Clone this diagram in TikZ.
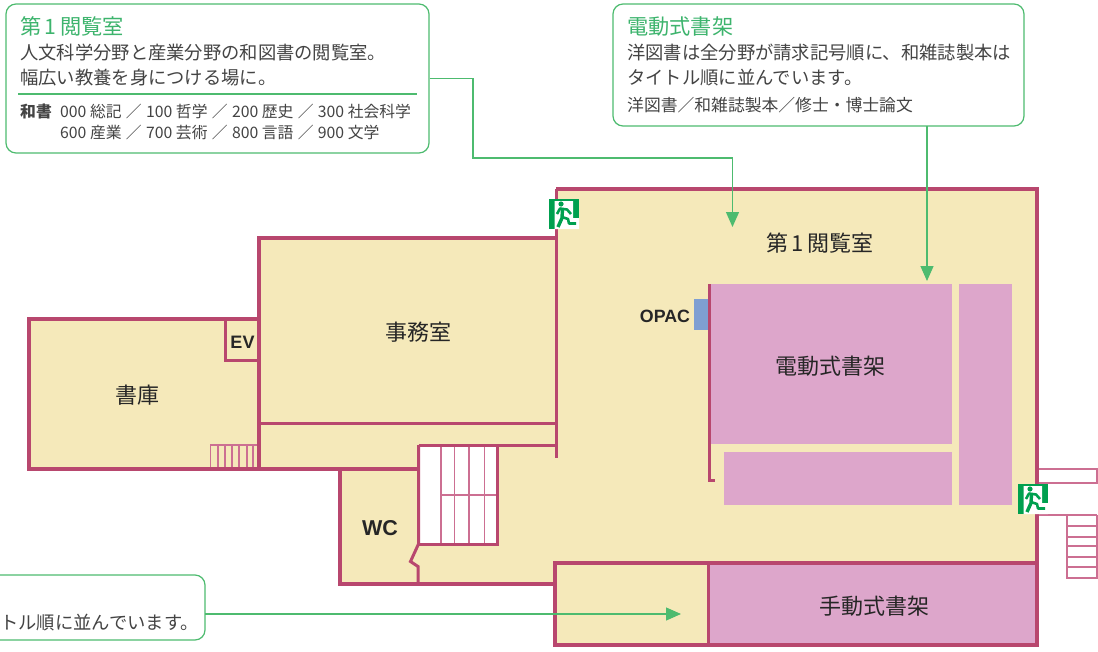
\documentclass[tikz,border=0pt]{standalone}
\usepackage{fontspec}
\setmainfont{Noto Sans CJK JP}
\newfontfamily\latinbold[BoldFont=Liberation Sans Bold]{Liberation Sans}
\usetikzlibrary{arrows.meta}
\definecolor{wallred}{HTML}{B8476E}
\definecolor{stairred}{HTML}{CC6F92}
\definecolor{floorcream}{HTML}{F5E9BA}
\definecolor{shelfpink}{HTML}{DDA6CB}
\definecolor{opacblue}{HTML}{7F9FD2}
\definecolor{calloutgreen}{HTML}{4DBB6F}
\definecolor{titlegreen}{HTML}{3DB46D}
\definecolor{exitgreen}{HTML}{00A04F}
\definecolor{bodygrey}{HTML}{444444}
\newcommand{\slashgap}{\hspace*{0.8pt}／\hspace*{0.8pt}}
\begin{document}
\begin{tikzpicture}[x=1pt,y=-1pt]
	\tikzset{wall/.style = {draw=wallred,line width=3.7pt}}
	\tikzset{thinwall/.style = {draw=wallred,line width=3pt}}
	\tikzset{stairline/.style = {draw=stairred,line width=1.5pt}}
	\tikzset{shelf/.style = {fill=shelfpink,draw=none}}
	\tikzset{callout/.style = {shape=rectangle,draw=calloutgreen,line width=1.2pt,rounded corners=10pt,fill=white,inner sep=0pt}}
	\tikzset{link/.style = {draw=calloutgreen,line width=1.2pt,-{Triangle[width=13pt,length=15pt]}}}
	\tikzset{title/.style = {anchor=base west,inner sep=0pt,text=titlegreen,font=\fontsize{21.2}{21.2}\selectfont}}
	\tikzset{body/.style = {anchor=base west,inner sep=0pt,text=bodygrey,font=\fontsize{18.3}{18.3}\selectfont}}
	\tikzset{small/.style = {anchor=base west,inner sep=0pt,text=bodygrey,font=\fontsize{15.8}{15.8}\selectfont}}
	\tikzset{room/.style = {inner sep=0pt,text=black!85,font=\fontsize{22}{22}\selectfont}}
	\tikzset{tag/.style = {inner sep=0pt,text=black!85,font=\latinbold\bfseries\fontsize{18}{18}\selectfont}}
	\tikzset{exitsign/.pic = {
		\fill[exitgreen] (0,0) rectangle (30,30);
		\fill[white] (5.5,2) -- (24,2) -- (24,19) -- (30,19) -- (30,30) -- (5.5,30) -- cycle;
		\fill[exitgreen] (12,5) circle (2.6);
		\draw[exitgreen,line width=2.6pt,line join=round] (8,15) -- (11,9.5) -- (18,10.5) -- (22,15);
		\draw[exitgreen,line width=3.4pt,line join=round] (13.5,10) -- (13,19) -- (9,28);
		\draw[exitgreen,line width=2.6pt,line join=round] (13,18) -- (19,20) -- (20,24.5) -- (27,24.5);
	}}
	\useasboundingbox (0,0) rectangle (1098,651);

	% floor
	\fill[floorcream] (29,319) -- (259,319) -- (259,238) -- (556,238) -- (556,189) -- (1037,189)
		-- (1037,645) -- (555,645) -- (555,584) -- (340,584) -- (340,469) -- (29,469) -- cycle;
	\fill[white] (419,445) rectangle (497,544);

	% shelves
	\fill[shelf] (709,284) rectangle (952,444);
	\fill[shelf] (724,452) rectangle (952,505);
	\fill[shelf] (959,284) rectangle (1012,505);
	\fill[shelf] (708,563) rectangle (1037,645);
	\fill[opacblue] (694,299) rectangle (708,330);

	% stairs
	\foreach \x in {218,225,232,239,247,253}
		\draw[stairline] (\x,445) -- (\x,468);
	\draw[stairline] (258,445) -- (210.5,445) -- (210.5,468);
	\foreach \x in {441,454.5,469,484.5}
		\draw[stairline] (\x,445) -- (\x,544);
	\draw[stairline] (441,495) -- (497,495);
	\draw[stairline] (1037,469) -- (1097,469) -- (1097,483) -- (1037,483);
	\foreach \y in {526,537,546,557,567}
		\draw[stairline] (1067,\y) -- (1097,\y);
	\draw[stairline] (1097,515) -- (1097,578) -- (1067,578) -- (1067,515);
	\draw[stairline] (1037,515) -- (1097,515);

	% walls
	\draw[wall] (259,319) -- (29,319) -- (29,469) -- (419,469);
	\draw[wall] (259,423) -- (259,238) -- (556,238);
	\draw[thinwall] (259,423) -- (556,423);
	\draw[thinwall] (225,319) -- (225,360.5) -- (259,360.5);
	\draw[wall] (259,423) -- (259,469);
	\draw[thinwall] (556,189) -- (556,458);
	\draw[wall] (556,189) -- (1037,189) -- (1037,645) -- (555,645) -- (555,563) -- (1037,563);
	\draw[wall] (340,469) -- (340,584) -- (555,584);
	\draw[thinwall] (418.5,445) -- (556,445);
	\draw[thinwall] (418.5,445) -- (418.5,544) -- (410.5,561.5) -- (418,566.5) -- (418,584);
	\draw[thinwall] (418.5,544) -- (497,544) -- (497,445);
	\draw[thinwall] (708.5,563) -- (708.5,645);
	\draw[thinwall] (709,284) -- (709,480) -- (715,480);

	% exits
	\pic at (549,199) {exitsign};
	\pic at (1018,484) {exitsign};

	% rooms
	\node[room] (readroom) at (820,243) {第\,1\,閲覧室};
	\node[room] (electric) at (830,366) {電動式書架};
	\node[room] (manual) at (874,606) {手動式書架};
	\node[room] (office) at (418.5,332) {事務室};
	\node[room] (stack) at (137,395) {書庫};
	\node[tag,font=\latinbold\bfseries\fontsize{21.5}{21.5}\selectfont] (wc) at (380,528) {WC};
	\node[tag] (ev) at (242.5,342) {EV};
	\node[tag,font=\latinbold\bfseries\fontsize{17.8}{17.8}\selectfont] (opac) at (665,316) {OPAC};

	% callouts
	\node[callout,minimum width=423pt,minimum height=149pt] (callread) at (217.5,78.5) {};
	\node[callout,minimum width=411pt,minimum height=122pt] (callshelf) at (818.5,65) {};
	\node[callout,minimum width=225pt,minimum height=65pt] (callhand) at (92.5,607.5) {};
	\draw[calloutgreen,line width=1.2pt] (18,94) -- (417,94);

	\node[title] (readtitle) at (20,34) {第\,1\,閲覧室};
	\node[body] (readone) at (20,59.5) {人文科学分野と産業分野の和図書の閲覧室。};
	\node[body] (readtwo) at (20,84.5) {幅広い教養を身につける場に。};
	\node[small,font=\bfseries\fontsize{15.8}{15.8}\selectfont] (readkind) at (20,117) {和書};
	\node[small] (readrowa) at (60,117) {000 総記 \slashgap{} 100 哲学 \slashgap{} 200 歴史 \slashgap{} 300 社会科学};
	\node[small] (readrowb) at (60,138) {600 産業 \slashgap{} 700 芸術 \slashgap{} 800 言語 \slashgap{} 900 文学};

	\node[title] (shelftitle) at (627,34) {電動式書架};
	\node[body] (shelfone) at (627,59.5) {洋図書は全分野が請求記号順に、和雑誌製本は};
	\node[body] (shelftwo) at (627,84.5) {タイトル順に並んでいます。};
	\node[small,font=\fontsize{16.8}{16.8}\selectfont] (shelfrow) at (627,111) {洋図書／和雑誌製本／修士・博士論文};

	\node[body,anchor=base east] (handline) at (199,629.5) {タイトル順に並んでいます。};

	% links
	\coordinate (readbend) at (473,158);
	\coordinate (readtip) at (732.5,227);
	\coordinate (shelfstart) at (927,126);
	\coordinate (shelftip) at (927,281);
	\coordinate (handstart) at (205,614);
	\coordinate (handtip) at (681,614);
	\draw[link] (callread.east) -| (readbend) -| (readtip);
	\draw[link] (shelfstart) -- (shelftip);
	\draw[link] (handstart) -- (handtip);
\end{tikzpicture}
\end{document}
